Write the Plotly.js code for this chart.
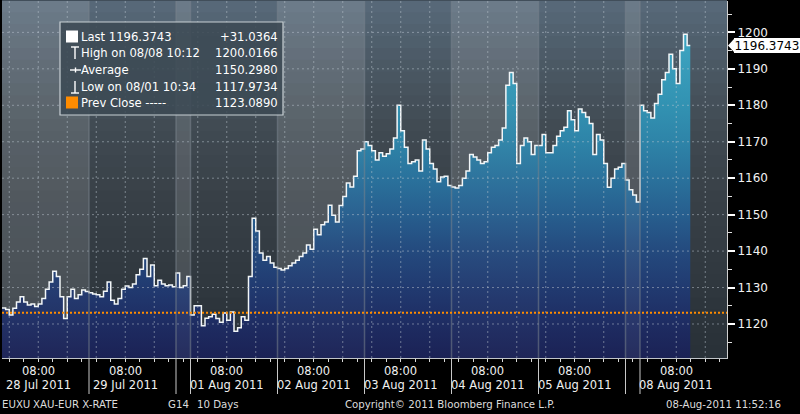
<!DOCTYPE html>
<html><head><meta charset="utf-8">
<script src="https://cdn.plot.ly/plotly-3.0.1.min.js"></script>
<style>html,body{margin:0;padding:0;background:#000}#chart{width:800px;height:414px}</style>
</head><body><div id="chart"></div>
<script>
// ---------------- DATA (hourly closes) ----------------
const d28 = [1124.4,1124.0,1122.5,1124.3,1126.0,1127.5,1126.0,1125.2,1125.5,1124.8,1125.5,1127.0,1129.5,1131.5,1134.5,1133.0,1127.5,1121.5,1127.5,1129.5,1127.0,1128.0,1129.3,1128.9];
const d29 = [1128.6,1128.2,1128.0,1127.5,1129.0,1131.5,1126.5,1125.5,1127.0,1129.5,1130.4,1130.0,1131.0,1133.5,1135.0,1138.0,1133.0,1136.2,1130.5,1132.0,1131.0,1130.5,1130.7,1130.2];
const wk1 = [1134.0,1130.0,1130.5,1133.0];
const d01 = [1122.5,1125.0,1125.0,1119.5,1121.6,1122.0,1122.7,1121.5,1120.5,1123.0,1121.0,1123.3,1118.0,1119.0,1122.0,1121.0,1133.0,1149.0,1145.5,1139.5,1137.5,1138.5,1136.7,1135.6];
const d02 = [1135.2,1134.8,1135.2,1136.0,1136.7,1137.5,1138.5,1139.5,1141.7,1140.5,1146.0,1144.5,1147.2,1148.0,1152.6,1149.8,1148.0,1152.5,1155.0,1158.7,1157.6,1160.5,1167.5,1168.0];
const d03 = [1170.0,1169.0,1167.5,1165.0,1167.0,1166.0,1166.7,1168.0,1171.0,1180.0,1173.0,1168.5,1164.0,1164.5,1165.0,1162.0,1170.5,1168.0,1164.0,1162.5,1159.0,1160.3,1160.5,1158.0];
const d04 = [1157.6,1157.3,1158.0,1160.0,1162.0,1166.5,1165.8,1165.0,1164.0,1164.5,1167.0,1168.5,1169.0,1170.5,1173.8,1185.5,1189.0,1186.0,1164.0,1169.0,1171.0,1170.0,1166.5,1169.0];
const d05 = [1169.0,1172.0,1167.0,1167.0,1169.0,1171.5,1173.0,1174.0,1178.5,1176.0,1173.0,1179.0,1178.0,1176.8,1175.0,1166.5,1172.0,1170.5,1164.0,1157.5,1160.0,1162.5,1163.0,1164.0];
const wk2 = [1159.5,1156.8,1155.4,1153.5];
const d08 = [1180.0,1178.5,1178.0,1176.5,1180.5,1183.0,1187.0,1189.0,1194.0,1190.0,1186.0,1195.0,1199.5,1196.3743];

const sessionValues = [d28,d29,wk1,d01,d02,d03,d04,d05,wk2,d08];
const sessionStarts = ['2011-07-27 22:00','2011-07-28 22:00','2011-07-31 18:00','2011-07-31 22:00','2011-08-01 22:00','2011-08-02 22:00','2011-08-03 22:00','2011-08-04 22:00','2011-08-07 18:00','2011-08-07 22:00'];
const sessionHours  = [24,24,4,24,24,24,24,24,4,24];
const sessionShade  = ['light','dark','weekend','dark','light','dark','light','dark','weekend','dark'];
const dateLabels    = ['28 Jul 2011','29 Jul 2011','','01 Aug 2011','02 Aug 2011','03 Aug 2011','04 Aug 2011','05 Aug 2011','','08 Aug 2011'];
const timeLabel = '08:00';
const breakStarts = ['2011-07-29 22:00','2011-08-05 22:00'];
const breakHours = 44;
const lastTime = '2011-08-08 11:52';
const lastPrice = 1196.3743;
const prevClose = 1123.0890;
const yTicks = [1120,1130,1140,1150,1160,1170,1180,1190,1200];
const yRange = [1110.67, 1208.61];

const legendLeft  = ['Last 1196.3743','High on 08/08 10:12','Average','Low on 08/01 10:34','Prev Close -----'];
const legendRight = ['+31.0364','1200.0166','1150.2980','1117.9734','1123.0890'];
const footer = [['EUXU',2],['XAU-EUR X-RATE',33],['G14',168],['10 Days',197],['Copyright\u00a9 2011 Bloomberg Finance L.P.',345],['08-Aug-2011 11:52:16',666]];

// ---------------- helpers ----------------
const H = 3600000;
function toMs(s){const [d,t]=s.split(' ');const [Y,M,D]=d.split('-').map(Number);const [h,m]=t.split(':').map(Number);return Date.UTC(Y,M-1,D,h,m);}
function fmt(ms){return new Date(ms).toISOString().slice(0,19).replace('T',' ');}
const L=2, R=727, T=1, B=358;
const pxX = x => (x-L)/(R-L);
const pxY = y => (B-y)/(B-T);
const FONT = 'DejaVu Sans, Verdana, sans-serif';

// series
const xs=[], ys=[];
sessionValues.forEach((vals,i)=>{const s=toMs(sessionStarts[i]);vals.forEach((v,j)=>{xs.push(fmt(s+j*H));ys.push(v);});});
xs.push(lastTime); ys.push(lastPrice);

const sessStart = sessionStarts.map(toMs);
const sessEnd = sessStart.map((s,i)=>s+sessionHours[i]*H);
const xMin = fmt(sessStart[0]), xMax = fmt(sessEnd[sessEnd.length-1]);

// ticks every 4h, grid every 8h
const tick4=[], grid8=[];
sessStart.forEach((s,i)=>{for(let t=s;t<=sessEnd[i];t+=H){const h=new Date(t).getUTCHours();if(h%4===0)tick4.push(fmt(t));if(h%8===0&&t>s&&t<sessEnd[i])grid8.push(fmt(t));}});

const shapes=[];
// background gradient strips
const bgStops=[[0,[88,106,122]],[60,[76,90,102]],[130,[64,74,82]],[200,[56,64,71]],[280,[48,56,63]],[358,[40,48,55]]];
function bgAt(y){for(let k=0;k<bgStops.length-1;k++){const [y0,c0]=bgStops[k],[y1,c1]=bgStops[k+1];if(y<=y1){const f=(y-y0)/(y1-y0);return 'rgb('+c0.map((c,j)=>Math.round(c+(c1[j]-c)*f)).join(',')+')';}}return 'rgb(40,48,55)';}
const N=30;
for(let k=0;k<N;k++){const y0=T+(B-T)*k/N,y1=T+(B-T)*(k+1)/N;shapes.push({type:'rect',xref:'paper',yref:'paper',x0:0,x1:1,y0:pxY(y1),y1:pxY(y0)+0.002,fillcolor:bgAt((y0+y1)/2),line:{width:0},layer:'below'});}
// lighter day bands (behind)
sessStart.forEach((s,i)=>{const a=sessionShade[i]==='weekend'?0.08:(sessionShade[i]==='light'?0.115:0);if(a>0)shapes.push({type:'rect',xref:'x',yref:'paper',x0:fmt(s),x1:fmt(sessEnd[i]),y0:0,y1:1,fillcolor:'rgba(255,255,255,'+a+')',line:{width:0},layer:'below'});});
// lighter bands over the fill
sessStart.forEach((s,i)=>{const a=sessionShade[i]==='weekend'?0.05:(sessionShade[i]==='light'?0.02:0);if(a>0)shapes.push({type:'rect',xref:'x',yref:'paper',x0:fmt(s),x1:fmt(sessEnd[i]),y0:0,y1:1,fillcolor:'rgba(255,255,255,'+a+')',line:{width:0},layer:'above'});});
// grid (dotted, above fill)
grid8.forEach(t=>shapes.push({type:'line',xref:'x',yref:'paper',x0:t,x1:t,y0:0,y1:1,line:{color:'rgba(190,200,210,0.5)',width:1,dash:'2px,3px'},layer:'above'}));
yTicks.forEach(v=>shapes.push({type:'line',xref:'paper',yref:'y',x0:0,x1:1,y0:v,y1:v,line:{color:'rgba(190,200,210,0.5)',width:1,dash:'2px,3px'},layer:'above'}));
// day boundaries
sessStart.slice(1).forEach(s=>{shapes.push({type:'line',xref:'x',yref:'paper',x0:fmt(s),x1:fmt(s),y0:0,y1:1,line:{color:'rgba(120,130,140,0.55)',width:1.5},layer:'above'});
  shapes.push({type:'line',xref:'x',yref:'paper',x0:fmt(s),x1:fmt(s),y0:pxY(394),y1:0,line:{color:'#c8c8c8',width:1},layer:'above'});});
// prev close
shapes.push({type:'line',xref:'paper',yref:'y',x0:0,x1:1,y0:prevClose,y1:prevClose,line:{color:'#ff8c00',width:2,dash:'2px,2px'},layer:'above'});
// legend box
shapes.push({type:'rect',xref:'paper',yref:'paper',x0:pxX(60),x1:pxX(283),y0:pxY(115),y1:pxY(22),fillcolor:'rgba(60,74,84,0.88)',line:{color:'#c8d0d4',width:1.2},layer:'above'});
const rowY=[36.7,53.3,70.2,86.8,102.7];
shapes.push({type:'rect',xref:'paper',yref:'paper',x0:pxX(66),x1:pxX(78),y0:pxY(42.5),y1:pxY(30.5),fillcolor:'#ffffff',line:{width:0},layer:'above'});
shapes.push({type:'rect',xref:'paper',yref:'paper',x0:pxX(66),x1:pxX(78),y0:pxY(108.5),y1:pxY(96.5),fillcolor:'#ff8c00',line:{width:0},layer:'above'});
const ic={color:'#ffffff',width:1.4};
shapes.push({type:'line',xref:'paper',yref:'paper',x0:pxX(71),x1:pxX(79),y0:pxY(47),y1:pxY(47),line:ic,layer:'above'});
shapes.push({type:'line',xref:'paper',yref:'paper',x0:pxX(75),x1:pxX(75),y0:pxY(47),y1:pxY(59),line:ic,layer:'above'});
shapes.push({type:'line',xref:'paper',yref:'paper',x0:pxX(70),x1:pxX(81),y0:pxY(70),y1:pxY(70),line:ic,layer:'above'});
shapes.push({type:'line',xref:'paper',yref:'paper',x0:pxX(75.5),x1:pxX(75.5),y0:pxY(67.5),y1:pxY(72.5),line:ic,layer:'above'});
shapes.push({type:'line',xref:'paper',yref:'paper',x0:pxX(75),x1:pxX(75),y0:pxY(81),y1:pxY(93),line:ic,layer:'above'});
shapes.push({type:'line',xref:'paper',yref:'paper',x0:pxX(71),x1:pxX(79),y0:pxY(93),y1:pxY(93),line:ic,layer:'above'});
// last-price arrow
const dy=6.5/((B-T)/(yRange[1]-yRange[0]));
shapes.push({type:'path',xref:'paper',yref:'y',path:`M ${pxX(728)},${lastPrice} L ${pxX(734)},${lastPrice+dy} L ${pxX(734)},${lastPrice-dy} Z`,fillcolor:'#ffffff',line:{width:0},layer:'above'});

// annotations
const ann=[];
sessStart.forEach((s,i)=>{if(!dateLabels[i])return;const t=fmt(s+10*H);
  ann.push({x:t,xref:'x',yref:'paper',y:pxY(370.5),text:timeLabel,showarrow:false,xanchor:'center',yanchor:'middle',borderpad:0,borderwidth:0,font:{family:FONT,size:11.5,color:'#f0f0f0'}});
  ann.push({x:t,xref:'x',yref:'paper',y:pxY(384.5),text:dateLabels[i],showarrow:false,xanchor:'center',yanchor:'middle',borderpad:0,borderwidth:0,font:{family:FONT,size:11.5,color:'#f0f0f0'}});});
legendLeft.forEach((txt,i)=>{
  ann.push({x:pxX(81),xref:'paper',yref:'paper',y:pxY(rowY[i]),text:txt,showarrow:false,xanchor:'left',yanchor:'middle',borderpad:0,borderwidth:0,font:{family:FONT,size:11.6,color:'#ffffff'}});
  ann.push({x:pxX(278),xref:'paper',yref:'paper',y:pxY(rowY[i]),text:legendRight[i],showarrow:false,xanchor:'right',yanchor:'middle',borderpad:0,borderwidth:0,font:{family:FONT,size:11.6,color:'#ffffff'}});});
footer.forEach(([txt,x])=>ann.push({x:pxX(x),xref:'paper',yref:'paper',y:pxY(404.5),text:txt,showarrow:false,xanchor:'left',yanchor:'middle',borderpad:0,borderwidth:0,font:{family:FONT,size:10.2,color:'#dcdcdc'}}));
ann.push({x:pxX(734),xref:'paper',yref:'y',y:lastPrice,text:lastPrice.toFixed(4),showarrow:false,xanchor:'left',yanchor:'middle',bgcolor:'#ffffff',borderpad:0.5,borderwidth:0,font:{family:FONT,size:12,color:'#000000'}});

const trace={type:'scatter',mode:'lines',x:xs,y:ys,line:{color:'#f2f6f8',width:1.5,shape:'hv'},fill:'tozeroy',
  fillgradient:{type:'vertical',start:yRange[0],stop:yRange[1],colorscale:[[0,'#1b2255'],[0.095,'#1e2c62'],[0.197,'#213a70'],[0.3,'#244a7e'],[0.4,'#275e8e'],[0.504,'#2a729c'],[0.606,'#2e84a8'],[0.708,'#3292b2'],[0.81,'#389cba'],[0.91,'#3ea6c2'],[1,'#42aac6']]},
  hoverinfo:'skip',showlegend:false};

const layout={width:800,height:414,margin:{l:L,r:800-R,t:T,b:414-B},paper_bgcolor:'#000000',plot_bgcolor:'#3a4650',showlegend:false,
  xaxis:{type:'date',range:[xMin,xMax],rangebreaks:[{values:breakStarts,dvalue:breakHours*H}],showgrid:false,zeroline:false,showline:true,linecolor:'#c0c4c8',linewidth:1,
    tickmode:'array',tickvals:tick4,showticklabels:false,ticks:'outside',ticklen:3,tickcolor:'#d8d8d8',tickwidth:1},
  yaxis:{side:'right',range:yRange,showgrid:false,zeroline:false,showline:true,linecolor:'#d0d0d0',linewidth:1,tickmode:'array',tickvals:yTicks,
    ticks:'outside',ticklen:7,tickwidth:2,tickcolor:'#ffffff',tickfont:{family:FONT,size:12,color:'#f2f2f2'},
    minor:{dtick:5,tick0:1120,ticks:'outside',ticklen:4,tickcolor:'#e0e0e0',tickwidth:1,showgrid:false}},
  shapes:shapes,annotations:ann};

Plotly.newPlot('chart',[trace],layout,{staticPlot:true,displayModeBar:false});
</script></body></html>
